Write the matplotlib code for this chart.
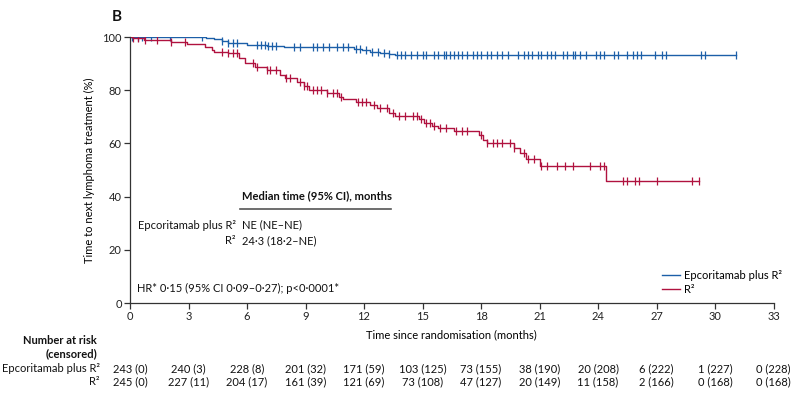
import numpy as np
import matplotlib
matplotlib.use("Agg")
import matplotlib.pyplot as plt

plt.rcParams['font.family'] = ['Lato', 'DejaVu Sans']
plt.rcParams['font.size'] = 8

# Kaplan-Meier steps (time in months, survival %)
epco_t = [0, 3.9, 4.3, 4.7, 5.0, 6.0, 7.0, 7.9, 11.5, 11.9, 12.3, 12.8, 13.3, 13.6]
epco_s = [100, 99.6, 99.1, 98.5, 97.6, 97.0, 96.6, 96.1, 95.5, 95.0, 94.5, 94.1, 93.6, 93.2]
epco_end = 31.1
epco_cens = [0.08, 0.43, 0.6, 1.1, 2.05, 3.7, 4.7, 5.0, 5.3, 5.5, 6.5, 6.7, 6.9, 7.1, 7.3,
             7.5, 8.4, 8.7, 9.4, 9.6, 9.9, 10.2, 10.6, 10.9, 11.2, 11.6, 11.8, 12.1, 12.4,
             12.7, 13.0, 13.3, 13.7, 13.9, 14.1, 14.4, 14.7, 15.0, 15.2, 15.6, 15.8, 16.1,
             16.2, 16.4, 16.6, 16.8, 17.0, 17.3, 17.6, 17.8, 18.0, 18.3, 18.5, 18.8, 19.1,
             19.4, 19.9, 20.2, 20.4, 20.6, 20.9, 21.1, 21.4, 21.6, 21.8, 22.2, 22.4, 22.7,
             22.8, 23.1, 23.4, 23.9, 24.1, 24.3, 24.8, 25.0, 25.5, 25.8, 26.0, 26.2, 26.9,
             27.3, 27.5, 29.3, 29.5, 31.1]

r2_t = [0, 0.15, 0.7, 2.1, 2.9, 3.85, 4.2, 4.3, 5.0, 5.6, 5.9, 6.4, 7.0, 7.7, 7.95, 8.55,
        8.9, 9.2, 10.1, 10.7, 10.9, 11.6, 12.3, 12.65, 13.3, 13.6, 14.8, 15.1, 15.5, 15.8,
        16.6, 17.9, 18.1, 18.3, 19.7, 20.0, 20.3, 21.0, 24.4]
r2_s = [100, 99.5, 98.9, 98.2, 97.3, 96.4, 95.1, 94.5, 93.9, 92.0, 90.1, 88.9, 87.6, 85.8,
        84.5, 83.2, 81.4, 80.1, 78.9, 77.6, 76.6, 75.7, 74.5, 73.3, 71.4, 70.2, 69.2, 67.8,
        66.4, 65.8, 64.8, 63.3, 61.4, 60.1, 58.3, 56.4, 54.0, 51.4, 45.8]
r2_end = 29.2
r2_cens = [0.15, 0.4, 0.77, 1.37, 2.1, 2.8, 4.7, 5.0, 5.3, 5.5, 6.3, 6.5, 7.0, 7.2, 7.5,
           8.0, 8.2, 8.7, 8.9, 9.1, 9.4, 9.6, 9.8, 10.1, 10.4, 10.6, 10.8, 11.7, 11.9,
           12.1, 12.5, 12.8, 13.2, 13.5, 13.8, 14.1, 14.5, 14.7, 14.9, 15.2, 15.4, 15.6,
           15.9, 16.2, 16.7, 17.0, 17.3, 18.0, 18.3, 18.6, 18.8, 19.1, 19.5, 19.7, 20.2,
           20.4, 20.7, 21.1, 21.4, 21.9, 22.3, 22.7, 23.6, 24.1, 24.3, 25.3, 25.5, 25.9,
           26.1, 27.0, 28.8, 29.2]

risk_times = [0, 3, 6, 9, 12, 15, 18, 21, 24, 27, 30, 33]
epco_risk = ["243 (0)", "240 (3)", "228 (8)", "201 (32)", "171 (59)", "103 (125)",
             "73 (155)", "38 (190)", "20 (208)", "6 (222)", "1 (227)", "0 (228)"]
r2_risk = ["245 (0)", "227 (11)", "204 (17)", "161 (39)", "121 (69)", "73 (108)",
           "47 (127)", "20 (149)", "11 (158)", "2 (166)", "0 (168)", "0 (168)"]

blue = '#1c5fa8'
red = '#b0123f'
fs = 8

W, H = 799, 395
fig = plt.figure(figsize=(W / 100, H / 100), dpi=100)
ax = fig.add_axes([130 / W, 1 - 303 / H, 643.5 / W, 266 / H])


def km(ax, t, s, end, cens, color, label):
    tt = list(t) + [end]
    ss = list(s) + [s[-1]]
    ax.step(tt, ss, where='post', color=color, lw=1.0, label=label)
    idx = np.searchsorted(t, cens, side='right') - 1
    ax.plot(cens, np.array(s)[idx], ls='none', marker='|', ms=5.5, mew=0.9, color=color)


km(ax, epco_t, epco_s, epco_end, epco_cens, blue, 'Epcoritamab plus R²')
km(ax, r2_t, r2_s, r2_end, r2_cens, red, 'R²')

ax.set_xlim(0, 33)
ax.set_ylim(0, 100)
ax.set_xticks(range(0, 34, 3))
ax.set_yticks(range(0, 101, 20))
for sp in ['top', 'right']:
    ax.spines[sp].set_visible(False)
for sp in ['left', 'bottom']:
    ax.spines[sp].set_color('#333333')
    ax.spines[sp].set_linewidth(0.9)
ax.tick_params(length=4, width=0.9, color='#333333', labelsize=fs, pad=2,
               labelcolor='#222222')
ax.set_ylabel('Time to next lymphoma treatment (%)', fontsize=fs, labelpad=5)
ax.set_xlabel('Time since randomisation (months)', fontsize=fs, labelpad=5)
ax.margins(0)

leg = ax.legend(loc='lower left', bbox_to_anchor=((662 - 130) / 643.5, 0.03),
                frameon=False, handlelength=1.6, handletextpad=0.4,
                labelspacing=0.25, fontsize=fs, borderpad=0, borderaxespad=0)


def ftext(px, py, s, size=fs, **kw):
    fig.text(px / W, 1 - py / H, s, va='center', fontsize=size, color='#111111', **kw)


ftext(117, 17, 'B', size=11, ha='center', fontweight='bold')

ftext(242, 196, 'Median time (95% CI), months', ha='left', fontweight='bold')
fig.add_artist(plt.Line2D([240 / W, 391 / W], [1 - 209 / H, 1 - 209 / H],
                          color='#555555', lw=1.2))
ftext(236, 225, 'Epcoritamab plus R²', ha='right')
ftext(242, 225, 'NE (NE–NE)', ha='left')
ftext(236, 240.5, 'R²', ha='right')
ftext(242, 240.5, '24·3 (18·2–NE)', ha='left')
ftext(137, 288, 'HR* 0·15 (95% CI 0·09–0·27); p<0·0001*', ha='left')

ftext(97, 340.5, 'Number at risk', ha='right', fontweight='bold')
ftext(97, 353.5, '(censored)', ha='right', fontweight='bold')
ftext(100, 369, 'Epcoritamab plus R²', ha='right')
ftext(100, 381.5, 'R²', ha='right')
for t, a, b in zip(risk_times, epco_risk, r2_risk):
    px = 130 + t * 19.5
    ftext(px, 369, a, ha='center')
    ftext(px, 381.5, b, ha='center')

fig.savefig('out.png', dpi=100)
